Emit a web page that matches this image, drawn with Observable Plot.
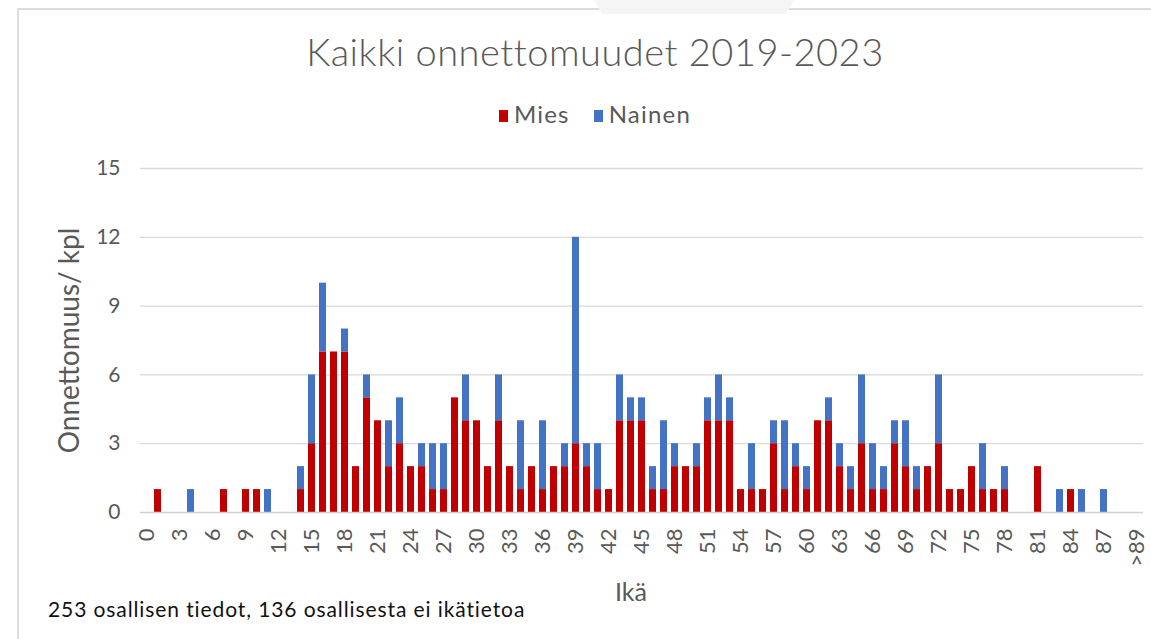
<!DOCTYPE html>
<html>
<head>
<meta charset="utf-8">
<script src="https://cdn.jsdelivr.net/npm/d3@7"></script>
<script src="https://cdn.jsdelivr.net/npm/@observablehq/plot@0.6"></script>
<style>
  html, body { margin: 0; padding: 0; background: #fff; }
  body { width: 1151px; height: 639px; overflow: hidden; position: relative; font-family: Lato, "Open Sans", sans-serif; }
  #frame { position: absolute; left: 17px; top: 8px; width: 1200px; height: 700px; border-left: 2px solid #dcdcdc; border-top: 2px solid #dcdcdc; box-sizing: border-box; }
  #deco { position: absolute; left: 594px; top: 0; width: 200px; height: 14px; background: #f5f5f5; clip-path: polygon(0 0, 100% 0, 96% 100%, 4% 100%); }
  #header { position: absolute; left: 18px; top: 0; width: 1154px; height: 140px; }
  #title { position: absolute; top: 32px; left: 0; width: 100%; text-align: center; font-size: 38px; letter-spacing: 0.5px; font-weight: 300; color: #595959; line-height: 1; }
  #legend { position: absolute; top: 102px; left: 0; width: 100%; text-align: center; font-size: 24px; letter-spacing: 1.2px; color: #595959; line-height: 1; }
  #legend span.sw { display: inline-block; width: 9px; height: 12px; margin-right: 6px; vertical-align: 1px; }
  #legend span.item { margin: 0 12px; }
  #chart { position: absolute; left: 0; top: 140px; }
  #caption { position: absolute; left: 48px; top: 596px; font-size: 21px; letter-spacing: 0.9px; color: #111; }
</style>
</head>
<body>
<div id="frame"></div>
<div id="deco"></div>
<div id="header">
  <div id="title"></div>
  <div id="legend"></div>
</div>
<div id="chart"></div>
<div id="caption"></div>
<script>
// ---- data ----
const titleText = "Kaikki onnettomuudet 2019-2023";
const captionText = "253 osallisen tiedot, 136 osallisesta ei ikätietoa";
const yLabel = "Onnettomuus/ kpl";
const xLabel = "Ikä";
const seriesNames = ["Mies", "Nainen"];
const seriesColors = ["#C00000", "#4472C4"];

const ages = [...Array.from({length: 90}, (_, i) => String(i)), ">89"];
const mies = [
  0,1,0,0,0,0,0,1,0,1,
  1,0,0,0,1,3,7,7,7,2,
  5,4,2,3,2,2,1,1,5,4,
  4,2,4,2,1,2,1,2,2,3,
  2,1,1,4,4,4,1,1,2,2,
  2,4,4,4,1,1,1,3,1,2,
  1,4,4,2,1,3,1,1,3,2,
  1,2,3,1,1,2,1,1,1,0,
  0,2,0,0,1,0,0,0,0,0,
  0
];
const nainen = [
  0,0,0,0,1,0,0,0,0,0,
  0,1,0,0,1,3,3,0,1,0,
  1,0,2,2,0,1,2,2,0,2,
  0,0,2,0,3,0,3,0,1,9,
  1,2,0,2,1,1,1,3,1,0,
  1,1,2,1,0,2,0,1,3,1,
  1,0,1,1,1,3,2,1,1,2,
  1,0,3,0,0,0,2,0,1,0,
  0,0,0,1,0,1,0,1,0,0,
  0
];
const xTickLabels = ["0","3","6","9","12","15","18","21","24","27","30","33","36","39","42","45","48","51","54","57","60","63","66","69","72","75","78","81","84","87",">89"];
const yTicks = [0, 3, 6, 9, 12, 15];

// ---- long table ----
const rows = [];
ages.forEach((a, i) => rows.push({age: a, sex: "Mies", n: mies[i]}));
ages.forEach((a, i) => rows.push({age: a, sex: "Nainen", n: nainen[i]}));

document.getElementById("title").textContent = titleText;
document.getElementById("caption").textContent = captionText;
const legend = document.getElementById("legend");
seriesNames.forEach((s, i) => {
  const item = document.createElement("span");
  item.className = "item";
  const sw = document.createElement("span");
  sw.className = "sw";
  sw.style.background = seriesColors[i];
  item.appendChild(sw);
  item.appendChild(document.createTextNode(s));
  legend.appendChild(item);
});

const chart = Plot.plot({
  width: 1151,
  height: 470,
  marginTop: 28,
  marginBottom: 98,
  marginLeft: 140,
  marginRight: 8,
  style: {fontFamily: "Lato, 'Open Sans', sans-serif", fontSize: "20px", color: "#595959", background: "transparent"},
  x: {type: "band", domain: ages, paddingInner: 0.4, paddingOuter: 0.2},
  y: {domain: [0, 15]},
  color: {domain: seriesNames, range: seriesColors},
  marks: [
    Plot.gridY(yTicks.filter(d => d > 0), {stroke: "#d9d9d9", strokeOpacity: 1, strokeWidth: 1.3}),
    Plot.barY(rows.filter(d => d.n > 0), {x: "age", y: "n", fill: "sex"}),
    Plot.ruleY([0], {stroke: "#d0d0d0", strokeWidth: 1.5}),
    Plot.axisY({ticks: yTicks, tickSize: 0, tickPadding: 20, fontSize: 21, label: null}),
    Plot.axisX({ticks: xTickLabels, tickRotate: -90, tickSize: 0, tickPadding: 16, fontSize: 22, label: null}),
    Plot.text([yLabel], {text: d => d, frameAnchor: "left", textAnchor: "middle", dx: -70, rotate: -90, fontSize: 28, fill: "#595959"}),
    Plot.text([xLabel], {text: d => d, frameAnchor: "bottom", dx: -11, dy: 88, fontSize: 25, fill: "#595959"})
  ]
});
document.getElementById("chart").appendChild(chart);
</script>
</body>
</html>
